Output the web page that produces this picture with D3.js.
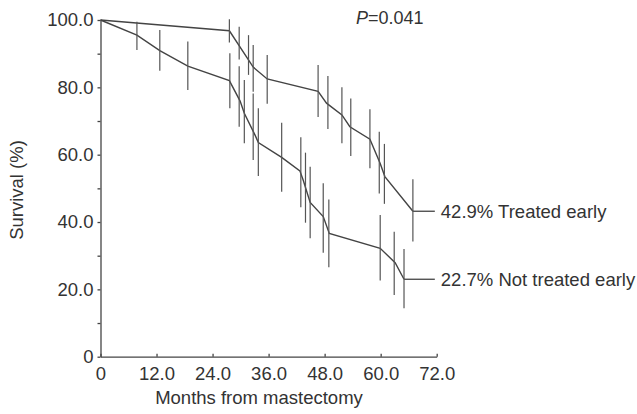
<!DOCTYPE html>
<html>
<head>
<meta charset="utf-8">
<script src="https://cdn.jsdelivr.net/npm/d3@7"></script>
<style>
  body { margin: 0; background: #fff; }
  text { font-family: "Liberation Sans", Arial, sans-serif; fill: #333; }
</style>
</head>
<body>
<div id="chart"></div>
<script>
// months, survival (%)
var earlyMonths = [0, 27.6, 32.7, 35.7, 46.6, 48.4, 51.7, 53.4, 57.7, 59.9, 60.9, 66.9];
var earlySurv   = [100, 96.8, 86.0, 82.5, 78.8, 75.3, 71.8, 68.3, 64.6, 57.4, 53.5, 43.2];
var lateMonths  = [0, 7.8, 12.7, 18.7, 27.6, 29.9, 30.8, 33.1, 33.8, 38.8, 42.7, 43.4, 44.9, 47.7, 49.0, 59.9, 63.1, 65.0];
var lateSurv    = [100, 95.5, 90.9, 86.3, 82.0, 75.9, 72.3, 65.8, 63.6, 59.2, 55.2, 52.5, 45.8, 41.6, 36.6, 32.2, 27.9, 23.0];

// error bars: month, upper, lower
var earlyBarM  = [27.6, 29.7, 31.7, 32.7, 35.7, 46.6, 48.7, 51.7, 53.6, 57.7, 59.7, 60.8, 66.9];
var earlyBarHi = [100.2, 98.0, 95.5, 92.6, 89.6, 86.6, 83.4, 80.0, 76.7, 73.5, 66.8, 63.2, 52.7];
var earlyBarLo = [93.3, 88.3, 83.7, 78.7, 75.1, 71.2, 67.6, 63.4, 59.6, 56.0, 48.5, 45.4, 34.2];
var lateBarM   = [7.8, 12.7, 18.7, 27.7, 29.7, 30.8, 32.7, 33.8, 38.8, 42.9, 43.9, 44.9, 47.7, 48.9, 59.9, 62.9, 65.0];
var lateBarHi  = [99.5, 97.0, 93.6, 90.1, 86.3, 82.2, 78.2, 73.8, 69.5, 65.2, 60.6, 56.4, 51.5, 46.7, 42.1, 37.1, 32.0];
var lateBarLo  = [91.1, 84.9, 79.2, 73.8, 68.3, 63.4, 58.4, 53.7, 49.0, 44.4, 39.8, 35.2, 30.9, 26.6, 22.6, 18.3, 14.4];

var xTicks = [0, 12, 24, 36, 48, 60, 72];
var yTicks = [0, 10, 20, 30, 40, 50, 60, 70, 80, 90, 100];
var labelEarly = "42.9% Treated early";
var labelLate = "22.7% Not treated early";
var leaderEnd = 71.6;

var width = 637, height = 414;
var x = d3.scaleLinear().domain([0, 72]).range([100.5, 436.7]);
var y = d3.scaleLinear().domain([0, 100]).range([356.7, 20]);

var svg = d3.select("#chart").append("svg")
    .attr("width", width)
    .attr("height", height);

// axes
var xAxis = d3.axisBottom(x)
    .tickValues(xTicks)
    .tickSizeInner(-3)
    .tickSizeOuter(0)
    .tickPadding(10)
    .tickFormat(function(d) { return d == 0 ? "0" : d3.format(".1f")(d); });
var yAxis = d3.axisLeft(y)
    .tickValues(yTicks)
    .tickSizeInner(3)
    .tickSizeOuter(0)
    .tickPadding(4)
    .tickFormat(function(d) { return d % 20 ? "" : (d == 0 ? "0" : d3.format(".1f")(d)); });

var gx = svg.append("g").attr("transform", "translate(0," + y(0) + ")").call(xAxis);
var gy = svg.append("g").attr("transform", "translate(" + x(0) + ",0)").call(yAxis);
[gx, gy].forEach(function(g) {
    g.selectAll("path, line").attr("stroke", "#444").attr("stroke-width", 1.3);
    g.selectAll("text").attr("font-size", "18.5px").attr("fill", "#333");
});

svg.append("text")
    .attr("x", 259).attr("y", 404)
    .attr("text-anchor", "middle")
    .attr("font-size", "18.5px")
    .text("Months from mastectomy");

svg.append("text")
    .attr("transform", "translate(23,190) rotate(-90)")
    .attr("text-anchor", "middle")
    .attr("font-size", "18.5px")
    .text("Survival (%)");

var pText = svg.append("text")
    .attr("x", 356).attr("y", 23.5)
    .attr("font-size", "18px");
pText.append("tspan").attr("font-style", "italic").text("P");
pText.append("tspan").text("=0.041");

// curves
var line = d3.line().x(function(d) { return x(d[0]); }).y(function(d) { return y(d[1]); });

function drawGroup(months, surv, barM, barHi, barLo, label) {
    var pts = months.map(function(m, i) { return [m, surv[i]]; });
    svg.append("path")
        .datum(pts)
        .attr("d", line)
        .attr("fill", "none")
        .attr("stroke", "#444")
        .attr("stroke-width", 1.4);

    var last = pts[pts.length - 1];
    svg.append("line")
        .attr("x1", x(last[0])).attr("x2", x(leaderEnd))
        .attr("y1", y(last[1])).attr("y2", y(last[1]))
        .attr("stroke", "#444").attr("stroke-width", 1.3);

    svg.append("g").selectAll("line")
        .data(barM)
        .enter()
        .append("line")
        .attr("x1", function(d) { return x(d); })
        .attr("x2", function(d) { return x(d); })
        .attr("y1", function(d, i) { return y(barHi[i]); })
        .attr("y2", function(d, i) { return y(barLo[i]); })
        .attr("stroke", "#555")
        .attr("stroke-width", 1.2);

    svg.append("text")
        .attr("x", x(leaderEnd) + 6)
        .attr("y", y(last[1]) + 6.5)
        .attr("font-size", "18.5px")
        .text(label);
}

drawGroup(earlyMonths, earlySurv, earlyBarM, earlyBarHi, earlyBarLo, labelEarly);
drawGroup(lateMonths, lateSurv, lateBarM, lateBarHi, lateBarLo, labelLate);
</script>
</body>
</html>
